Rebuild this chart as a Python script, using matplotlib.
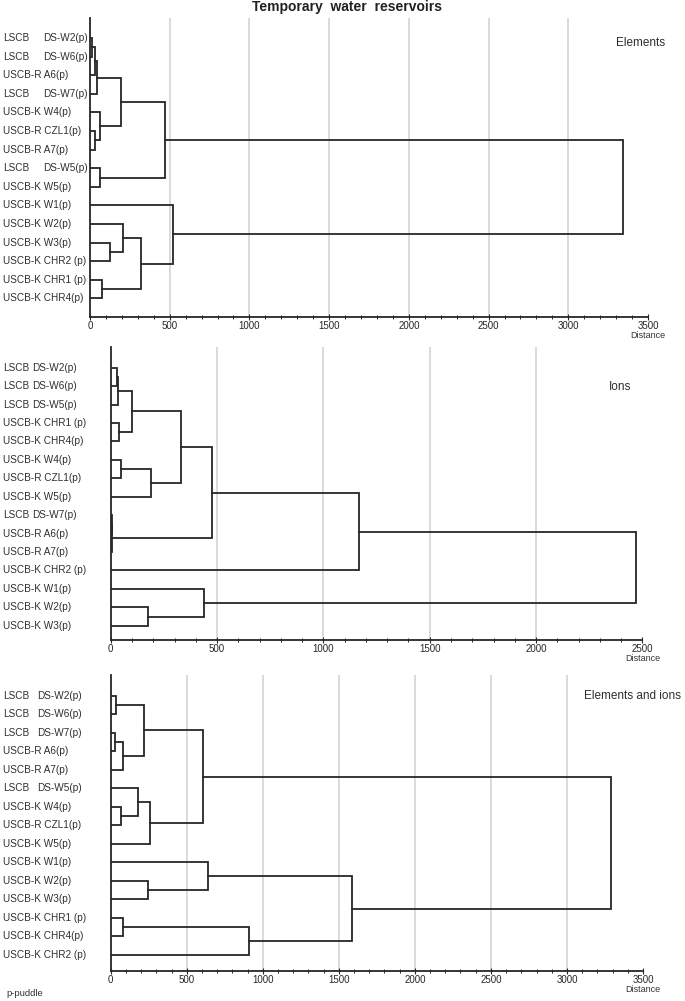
import matplotlib.pyplot as plt
from matplotlib.ticker import MultipleLocator
from matplotlib.transforms import blended_transform_factory

plt.rcParams["font.family"] = ["Liberation Sans", "DejaVu Sans"]

W, H = 685, 1001
INK = "#262626"

# Elements: leaves in plotted order, merges given like a linkage table
# (ids >= 15 refer to earlier merges)
elem_labels = ["LSCB DS-W2(p)", "LSCB DS-W6(p)", "USCB-R A6(p)", "LSCB DS-W7(p)",
               "USCB-K W4(p)", "USCB-R CZL1(p)", "USCB-R A7(p)", "LSCB DS-W5(p)",
               "USCB-K W5(p)", "USCB-K W1(p)", "USCB-K W2(p)", "USCB-K W3(p)",
               "USCB-K CHR2 (p)", "USCB-K CHR1 (p)", "USCB-K CHR4(p)"]
elem_left = [0, 15, 16, 5, 4, 17, 7, 20, 11, 10, 13, 24, 9, 22]
elem_right = [1, 2, 3, 6, 18, 19, 8, 21, 12, 23, 14, 25, 26, 27]
elem_height = [15, 31, 44, 31, 62, 192, 62, 473, 125, 204, 77, 321, 521, 3342]

# Ions
ion_labels = ["LSCB DS-W2(p)", "LSCB DS-W6(p)", "LSCB DS-W5(p)", "USCB-K CHR1 (p)",
              "USCB-K CHR4(p)", "USCB-K W4(p)", "USCB-R CZL1(p)", "USCB-K W5(p)",
              "LSCB DS-W7(p)", "USCB-R A6(p)", "USCB-R A7(p)", "USCB-K CHR2 (p)",
              "USCB-K W1(p)", "USCB-K W2(p)", "USCB-K W3(p)"]
ion_left = [0, 15, 3, 16, 5, 19, 18, 8, 22, 21, 24, 13, 12, 25]
ion_right = [1, 2, 4, 17, 6, 7, 20, 9, 10, 23, 11, 14, 26, 27]
ion_height = [31, 36, 39, 102, 47, 188, 332, 5, 7, 476, 1167, 177, 437, 2470]

# Elements and ions
both_labels = ["LSCB DS-W2(p)", "LSCB DS-W6(p)", "LSCB DS-W7(p)", "USCB-R A6(p)",
               "USCB-R A7(p)", "LSCB DS-W5(p)", "USCB-K W4(p)", "USCB-R CZL1(p)",
               "USCB-K W5(p)", "USCB-K W1(p)", "USCB-K W2(p)", "USCB-K W3(p)",
               "USCB-K CHR1 (p)", "USCB-K CHR4(p)", "USCB-K CHR2 (p)"]
both_left = [0, 2, 16, 15, 6, 5, 20, 18, 10, 9, 12, 25, 24, 22]
both_right = [1, 3, 4, 17, 7, 19, 8, 21, 11, 23, 13, 14, 26, 27]
both_height = [35, 31, 83, 221, 66, 178, 257, 607, 246, 643, 81, 908, 1585, 3289]

fig = plt.figure(figsize=(W / 100, H / 100), dpi=100)


def draw_tree(ax, n_leaves, left, right, height):
    pos = [float(i) for i in range(n_leaves)]
    hgt = [0.0] * n_leaves
    for l, r, h in zip(left, right, height):
        ax.plot([hgt[l], h, h, hgt[r]], [pos[l], pos[l], pos[r], pos[r]],
                color=INK, lw=1.3, solid_joinstyle="miter", zorder=3)
        pos.append((pos[l] + pos[r]) / 2)
        hgt.append(h)


def panel(box, leaf_px, labels, left, right, height, xmax, tag, tag_xy, ds_x):
    x0, x1, y_top, y_bot = box
    ax = fig.add_axes([x0 / W, 1 - y_bot / H, (x1 - x0) / W, (y_bot - y_top) / H])
    first, step = leaf_px
    ax.set_ylim((y_bot - first) / step, (y_top - first) / step)
    ax.set_xlim(0, xmax)

    for g in range(500, xmax, 500):
        ax.axvline(g, color="#d4d4d4", lw=1.2, zorder=0)

    draw_tree(ax, len(labels), left, right, height)

    for s in ["top", "right"]:
        ax.spines[s].set_visible(False)
    for s in ["left", "bottom"]:
        ax.spines[s].set_color(INK)
        ax.spines[s].set_linewidth(1.3)
    ax.set_yticks([])
    ax.xaxis.set_major_locator(MultipleLocator(500))
    ax.xaxis.set_minor_locator(MultipleLocator(100))
    ax.tick_params(axis="x", which="major", direction="inout", length=4, width=0.8,
                   labelsize=7, pad=1, colors=INK)
    ax.tick_params(axis="x", which="minor", direction="inout", length=2.5, width=0.7,
                   colors=INK)

    trans = blended_transform_factory(fig.transFigure, ax.transData)
    for i, lab in enumerate(labels):
        group, sample = lab.split(" ", 1)
        if group == "LSCB":
            ax.text(3 / W, i, group, transform=trans, va="center", fontsize=7.2,
                    color="#2e2e2e", clip_on=False)
            ax.text(ds_x / W, i, sample, transform=trans, va="center", fontsize=7.2,
                    color="#2e2e2e", clip_on=False)
        else:
            ax.text(3 / W, i, lab, transform=trans, va="center", fontsize=7.2,
                    color="#2e2e2e", clip_on=False)

    ax.annotate("Distance", xy=(1, 0), xycoords="axes fraction", xytext=(0, -13.5),
                textcoords="offset points", ha="center", va="center",
                fontsize=6.5, color="#333333")
    fig.text(tag_xy[0] / W, 1 - tag_xy[1] / H, tag, fontsize=8.5, va="center",
             color="#2e2e2e")
    return ax


panel((90, 648, 18, 317), (38, 18.6), elem_labels, elem_left, elem_right,
      elem_height, 3500, "Elements", (616, 43), 43)
panel((110.7, 642.4, 347, 640), (367.7, 18.43), ion_labels, ion_left, ion_right,
      ion_height, 2500, "Ions", (609, 387), 32)
panel((110.7, 643, 675, 970.7), (695.7, 18.52), both_labels, both_left, both_right,
      both_height, 3500, "Elements and ions", (584, 696), 37)

fig.text(347.5 / W, 1 - 11 / H, "Temporary  water  reservoirs", ha="center",
         va="baseline", fontsize=10, fontweight="bold", color="#222222")
fig.text(6 / W, 1 - 996 / H, "p-puddle", fontsize=6.8, va="baseline", color="#333333")

fig.savefig("out.png", dpi=100)
